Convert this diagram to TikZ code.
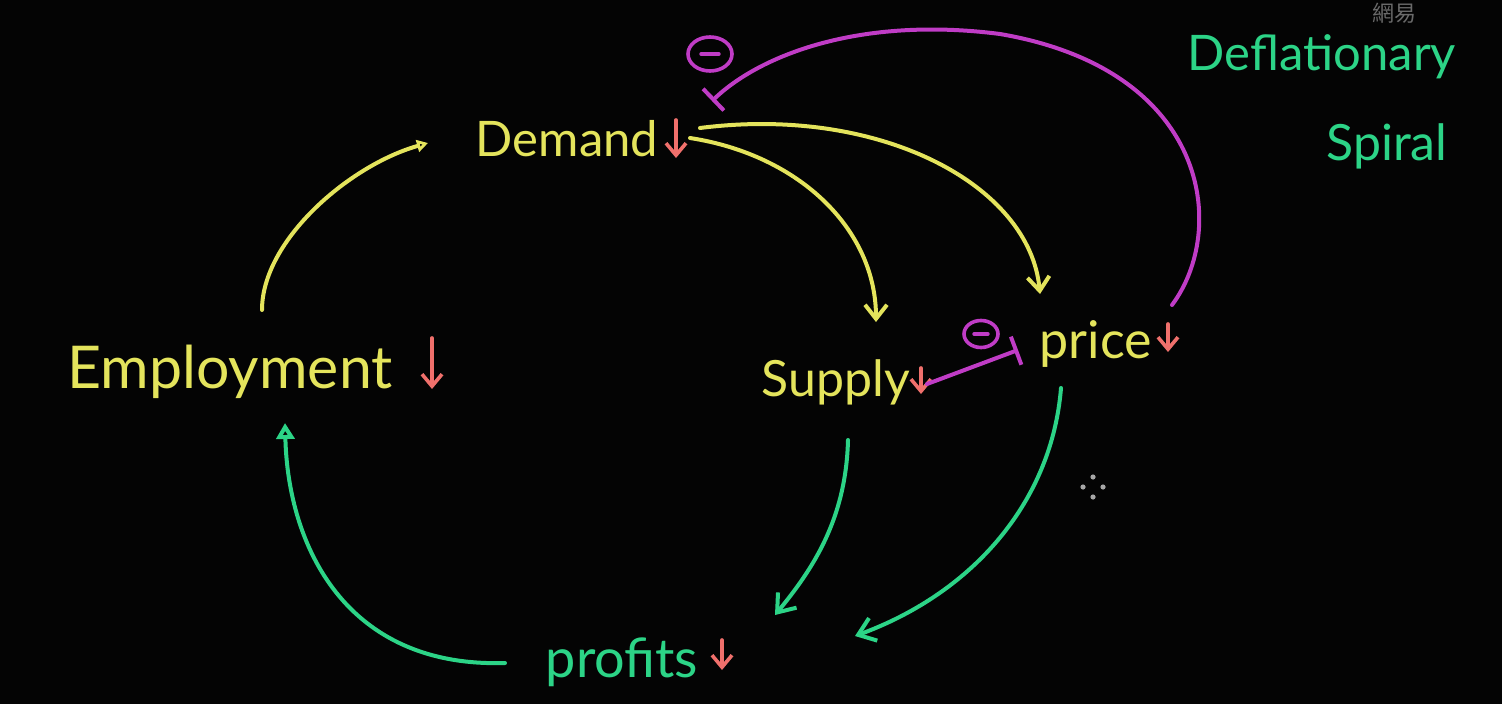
\documentclass[tikz,border=0pt]{standalone}
\usepackage{fontspec}
\setmainfont{Lato}
\newfontfamily\cjk{Noto Sans CJK TC}
\usetikzlibrary{arrows.meta,calc,shapes.geometric}
\definecolor{hy}{HTML}{E4E45C}
\definecolor{hr}{HTML}{F0706C}
\definecolor{hg}{HTML}{2CD487}
\definecolor{hm}{HTML}{C03CC6}
\definecolor{bg}{HTML}{040404}
\definecolor{wm}{HTML}{6A6A6A}
\tikzset{
  lab/.style={inner sep=0pt, anchor=center},
  stroke/.style={line width=4pt, line cap=round},
  yarr/.style={stroke, hy, -{Straight Barb[length=14pt,width=22pt]}},
  garr/.style={stroke, hg, -{Straight Barb[length=16pt,width=24pt]}},
  gtri/.style={stroke, hg, -{Triangle[open,length=16pt,width=18pt]}},
  ytri/.style={stroke, hy, -{Triangle[open,length=11pt,width=12pt]}},
  mbar/.style={stroke, hm, -{Bar[width=30pt]}},
  redarr/.style={line width=3.6pt, hr, line cap=round, -{Straight Barb[length=12pt,width=20pt]}},
  minus/.style={draw=hm, line width=3.6pt, ellipse, minimum width=44pt, minimum height=34pt, inner sep=0pt},
}
\begin{document}
\begin{tikzpicture}[x=1pt,y=-1pt]
\useasboundingbox (0,0) rectangle (1502,704);
\clip (0,0) rectangle (1502,704);
\fill[bg] (0,0) rectangle (1502,704);

% watermark
\node[lab, wm, anchor=north west, font=\cjk\fontsize{22}{24}\selectfont] (wmark) at (1372,3) {網易};

% labels
\node[lab, hy, font=\fontsize{49}{52}\selectfont] (demand) at (567,139) {Demand};
\node[lab, hy, font=\fontsize{59}{62}\selectfont] (employ) at (230,372) {Employment};
\node[lab, hy, font=\fontsize{50}{52}\selectfont] (supply) at (836,382) {Supply};
\node[lab, hy, font=\fontsize{52}{54}\selectfont] (price) at (1096,344) {price};
\node[lab, hg, font=\fontsize{54}{56}\selectfont] (profits) at (622,662) {profits};
\node[lab, hg, font=\fontsize{49}{52}\selectfont] (defl) at (1322,57) {Deflationary};
\node[lab, hg, font=\fontsize{50}{52}\selectfont] (spiral) at (1387,146) {Spiral};

% red down arrows
\draw[redarr] (676,120) -- (676,158);
\draw[redarr] (432,338) -- (432,389);
\draw[redarr] (921,368) -- (921,394);
\draw[redarr] (1168,324) -- (1168,352);
\draw[redarr] (722,640) -- (722,670);

% end coordinates
\coordinate (empTop) at (262,310);
\coordinate (demIn) at (428,143);
\coordinate (demOutA) at (690,138);
\coordinate (demOutB) at (700,128);
\coordinate (supIn) at (876,322);
\coordinate (priIn) at (1040,294);
\coordinate (priOutM) at (1172,305);
\coordinate (demBar) at (712,101);
\coordinate (supOutM) at (927,384);
\coordinate (priBar) at (1018,350);
\coordinate (supOut) at (848,440);
\coordinate (proInA) at (775,615);
\coordinate (priOut) at (1061,388);
\coordinate (proInB) at (855,636);
\coordinate (proOut) at (505,663);
\coordinate (empIn) at (285,423);

% yellow connectors
\draw[ytri] (empTop) .. controls (262,240) and (350,165) .. (demIn);
\draw[yarr] (demOutA) .. controls (800,155) and (876,230) .. (supIn);
\draw[yarr] (demOutB) .. controls (880,105) and (1030,185) .. (priIn);

% magenta inhibitors
\draw[mbar] (priOutM) .. controls (1228,230) and (1210,70) .. (1000,34)
            .. controls (860,16) and (760,55) .. (demBar);
\node[minus] (m1) at (710,54) {};
\draw[hm, line width=3.4pt, line cap=round] (701,54) -- (719,54);
\draw[mbar] (supOutM) -- (priBar);
\node[minus, minimum width=34pt, minimum height=27pt] (m2) at (981,334) {};
\draw[hm, line width=3.4pt, line cap=round] (974,334) -- (988,334);

% green connectors
\draw[garr] (supOut) .. controls (846,520) and (812,570) .. (proInA);
\draw[garr] (priOut) .. controls (1052,500) and (975,592) .. (proInB);
\draw[gtri] (proOut) .. controls (345,668) and (288,545) .. (empIn);

% cursor
\foreach \dx/\dy in {0/-10,0/10,-10/0,10/0}
  \fill[gray!70] ($(1093,487)+(\dx,\dy)$) circle (2.6pt);
\end{tikzpicture}
\end{document}
